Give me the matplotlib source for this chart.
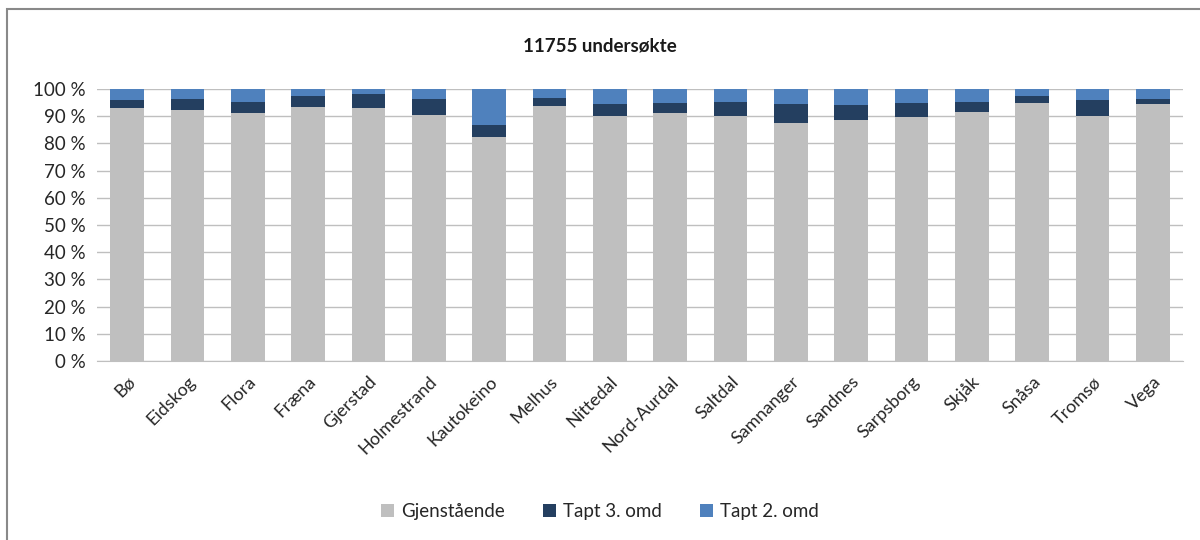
import matplotlib.pyplot as plt
from matplotlib.patches import Rectangle
from matplotlib.ticker import FuncFormatter
import numpy as np

plt.rcParams["font.family"] = ["Lato", "DejaVu Sans"]

# Kommuner og andeler (%)
kommuner = ["Bø", "Eidskog", "Flora", "Fræna", "Gjerstad", "Holmestrand",
            "Kautokeino", "Melhus", "Nittedal", "Nord-Aurdal", "Saltdal",
            "Samnanger", "Sandnes", "Sarpsborg", "Skjåk", "Snåsa", "Tromsø", "Vega"]
gjenstaende = [92.9, 92.4, 91.0, 93.4, 92.9, 90.5, 82.4, 93.9, 90.1, 91.0,
               90.0, 87.6, 88.6, 89.6, 91.5, 94.9, 90.0, 94.4]
tapt_3 = [3.0, 3.8, 4.4, 3.9, 5.4, 5.8, 4.4, 2.8, 4.3, 3.9,
          5.4, 6.8, 5.4, 5.3, 3.9, 2.5, 5.9, 2.0]
tapt_2 = [4.1, 3.8, 4.6, 2.7, 1.7, 3.7, 13.2, 3.3, 5.6, 5.1,
          4.6, 5.6, 6.0, 5.1, 4.6, 2.6, 4.1, 3.6]

c_grey = "#BFBFBF"
c_dark = "#243F60"
c_blue = "#4F81BD"

fig = plt.figure(figsize=(12, 5.4), dpi=100)
ax = fig.add_axes([0.0808, 0.3315, 0.905, 0.5037])

x = np.arange(len(kommuner))
g = np.array(gjenstaende)
t3 = np.array(tapt_3)
t2 = np.array(tapt_2)
w = 0.56
ax.bar(x, g, w, color=c_grey, label="Gjenstående", zorder=2)
ax.bar(x, t3, w, bottom=g, color=c_dark, label="Tapt 3. omd", zorder=2)
ax.bar(x, t2, w, bottom=g + t3, color=c_blue, label="Tapt 2. omd", zorder=2)

ax.set_xlim(-0.5, len(kommuner) - 0.5)
ax.set_ylim(0, 100)
ax.set_yticks(np.arange(0, 101, 10))
ax.yaxis.set_major_formatter(FuncFormatter(lambda v, p: f"{int(v)} %"))
ax.grid(axis="y", color="#BFBFBF", linewidth=1, zorder=0)
for s in ["top", "right", "left"]:
    ax.spines[s].set_visible(False)
ax.spines["bottom"].set_color("#BFBFBF")
ax.tick_params(axis="y", length=0, labelsize=13.5, pad=8, colors="#262626")
ax.tick_params(axis="x", length=0, pad=9)
ax.set_xticks(x)
ax.set_xticklabels(kommuner, rotation=45, ha="right", rotation_mode="anchor",
                   fontsize=13, color="#262626")

fig.text(0.5, 0.915, "11755 undersøkte", ha="center", va="center",
         fontsize=13.5, fontweight="bold", color="#1a1a1a")

fig.legend(loc="center", bbox_to_anchor=(0.5, 0.053), ncol=3, frameon=False,
           fontsize=13.5, handlelength=0.7, handleheight=0.7, columnspacing=2.0,
           handletextpad=0.4, labelcolor="#262626")

# ramme rundt diagrammet
fig.patches.append(Rectangle((0.006, -0.01), 1.0, 0.994, transform=fig.transFigure,
                             fill=False, edgecolor="#898989", linewidth=1.5))

fig.savefig("out.png", dpi=100)
